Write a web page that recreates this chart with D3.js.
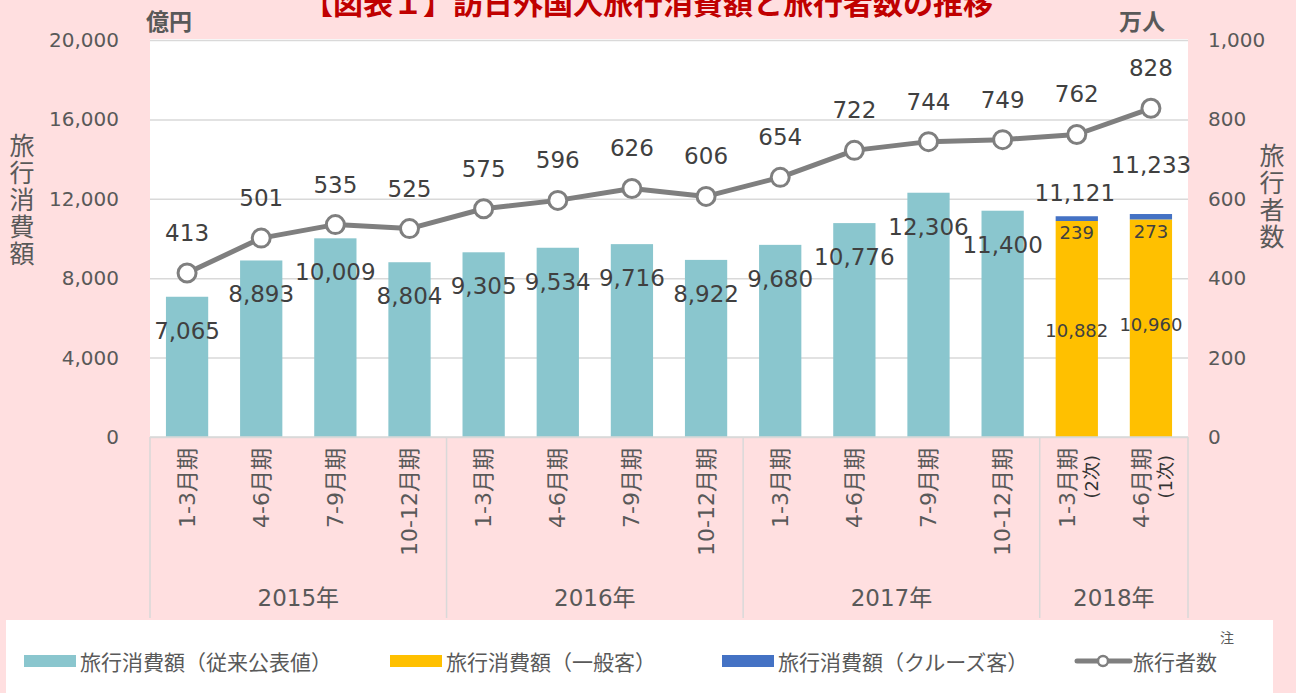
<!DOCTYPE html>
<html>
<head>
<meta charset="utf-8">
<script src="https://cdn.jsdelivr.net/npm/d3@7"></script>
<style>
  body { margin: 0; background: #FFDFE0; }
  svg { display: block; }
  text { font-family: "DejaVu Sans", "Noto Sans CJK JP", sans-serif; }
  .jp { font-family: "Noto Sans CJK JP", sans-serif; }
</style>
</head>
<body>
<svg id="chart" width="1296" height="693"></svg>
<script>
// values
var periods = ["1-3月期", "4-6月期", "7-9月期", "10-12月期",
  "1-3月期", "4-6月期", "7-9月期", "10-12月期",
  "1-3月期", "4-6月期", "7-9月期", "10-12月期",
  "1-3月期", "4-6月期"];
var periodNotes = ["", "", "", "", "", "", "", "", "", "", "", "", "(2次)", "(1次)"];
var years = ["2015年", "2016年", "2017年", "2018年"];
var yearSpans = [4, 4, 4, 2];
var spendOld = [7065, 8893, 10009, 8804, 9305, 9534, 9716, 8922, 9680, 10776, 12306, 11400, null, null];
var spendGeneral = [null, null, null, null, null, null, null, null, null, null, null, null, 10882, 10960];
var spendCruise = [null, null, null, null, null, null, null, null, null, null, null, null, 239, 273];
var visitors = [413, 501, 535, 525, 575, 596, 626, 606, 654, 722, 744, 749, 762, 828];
var leftTicks = [0, 4000, 8000, 12000, 16000, 20000];
var rightTicks = [0, 200, 400, 600, 800, 1000];
var legendLabels = ["旅行消費額（従来公表値）", "旅行消費額（一般客）", "旅行消費額（クルーズ客）", "旅行者数"];

var colors = { old: "#8AC6CE", general: "#FFC000", cruise: "#4472C4", line: "#7F7F7F" };
var textColor = "#595959";
var labelColor = "#404040";
var gridColor = "#D9D9D9";

var plot = { left: 150, right: 1188, top: 40, bottom: 437 };

var svg = d3.select("#chart");

var x = d3.scaleBand()
  .domain(d3.range(periods.length))
  .range([plot.left, plot.right])
  .paddingInner(0.43)
  .paddingOuter(0.215);
var step = x.step();

var yLeft = d3.scaleLinear().domain([0, 20000]).range([plot.bottom, plot.top]);
var yRight = d3.scaleLinear().domain([0, 1000]).range([plot.bottom, plot.top]);

// plot background
svg.append("rect")
  .attr("x", plot.left)
  .attr("y", plot.top - 1)
  .attr("width", plot.right - plot.left)
  .attr("height", plot.bottom - plot.top + 1)
  .attr("fill", "#fff");

// gridlines + left axis
var leftAxis = d3.axisLeft(yLeft)
  .tickValues(leftTicks)
  .tickSize(-(plot.right - plot.left))
  .tickPadding(31)
  .tickFormat(d3.format(","));

svg.append("g")
  .attr("transform", "translate(" + plot.left + ",0)")
  .call(leftAxis)
  .call(function (g) {
    g.select(".domain").remove();
    g.selectAll(".tick line").attr("stroke", gridColor).attr("stroke-width", 1.5);
    g.selectAll(".tick text").attr("fill", textColor).style("font-size", "20px");
  });

var rightAxis = d3.axisRight(yRight)
  .tickValues(rightTicks)
  .tickSize(0)
  .tickPadding(20)
  .tickFormat(d3.format(","));

svg.append("g")
  .attr("transform", "translate(" + plot.right + ",0)")
  .call(rightAxis)
  .call(function (g) {
    g.select(".domain").remove();
    g.selectAll(".tick text").attr("fill", textColor).style("font-size", "20px");
  });

// bars: conventional series
var oldIdx = d3.range(periods.length).filter(function (i) { return spendOld[i] != null; });
svg.append("g").selectAll("rect")
  .data(oldIdx)
  .enter().append("rect")
  .attr("x", function (i) { return x(i); })
  .attr("y", function (i) { return yLeft(spendOld[i]); })
  .attr("width", x.bandwidth())
  .attr("height", function (i) { return plot.bottom - yLeft(spendOld[i]); })
  .attr("fill", colors.old);

// stacked bars for 2018
var stackIdx = d3.range(periods.length).filter(function (i) { return spendGeneral[i] != null; });
svg.append("g").selectAll("rect")
  .data(stackIdx)
  .enter().append("rect")
  .attr("x", function (i) { return x(i); })
  .attr("y", function (i) { return yLeft(spendGeneral[i]); })
  .attr("width", x.bandwidth())
  .attr("height", function (i) { return plot.bottom - yLeft(spendGeneral[i]); })
  .attr("fill", colors.general);

svg.append("g").selectAll("rect")
  .data(stackIdx)
  .enter().append("rect")
  .attr("x", function (i) { return x(i); })
  .attr("y", function (i) { return yLeft(spendGeneral[i] + spendCruise[i]); })
  .attr("width", x.bandwidth())
  .attr("height", function (i) { return yLeft(spendGeneral[i]) - yLeft(spendGeneral[i] + spendCruise[i]); })
  .attr("fill", colors.cruise);

// visitors line
var line = d3.line()
  .x(function (d, i) { return x(i) + x.bandwidth() / 2; })
  .y(function (d) { return yRight(d); });

svg.append("path")
  .datum(visitors)
  .attr("d", line)
  .attr("fill", "none")
  .attr("stroke", colors.line)
  .attr("stroke-width", 5)
  .attr("stroke-linejoin", "round");

svg.append("g").selectAll("circle")
  .data(visitors)
  .enter().append("circle")
  .attr("cx", function (d, i) { return x(i) + x.bandwidth() / 2; })
  .attr("cy", function (d) { return yRight(d); })
  .attr("r", 9)
  .attr("fill", "#fff")
  .attr("stroke", colors.line)
  .attr("stroke-width", 3);

// data labels
var fmt = d3.format(",");
var labels = svg.append("g")
  .attr("text-anchor", "middle")
  .attr("dominant-baseline", "central")
  .attr("fill", labelColor);

labels.selectAll(".lab-old")
  .data(oldIdx)
  .enter().append("text")
  .attr("x", function (i) { return x(i) + x.bandwidth() / 2; })
  .attr("y", function (i) { return yLeft(spendOld[i]) + 34; })
  .style("font-size", "23px")
  .text(function (i) { return fmt(spendOld[i]); });

labels.selectAll(".lab-line")
  .data(visitors)
  .enter().append("text")
  .attr("x", function (d, i) { return x(i) + x.bandwidth() / 2; })
  .attr("y", function (d) { return yRight(d) - 40; })
  .style("font-size", "23px")
  .text(function (d) { return fmt(d); });

// 2018 totals sit above the stack, the last one nudged higher
labels.selectAll(".lab-total")
  .data(stackIdx)
  .enter().append("text")
  .attr("x", function (i, k) { return x(i) + x.bandwidth() / 2 + (k == 1 ? 0 : -2); })
  .attr("y", function (i, k) { return yLeft(spendGeneral[i] + spendCruise[i]) - (k == 1 ? 49 : 23); })
  .style("font-size", "23px")
  .text(function (i) { return fmt(spendGeneral[i] + spendCruise[i]); });

labels.selectAll(".lab-cruise")
  .data(stackIdx)
  .enter().append("text")
  .attr("x", function (i) { return x(i) + x.bandwidth() / 2; })
  .attr("y", function (i) { return yLeft(spendGeneral[i]) + 12; })
  .style("font-size", "18px")
  .text(function (i) { return fmt(spendCruise[i]); });

labels.selectAll(".lab-general")
  .data(stackIdx)
  .enter().append("text")
  .attr("x", function (i) { return x(i) + x.bandwidth() / 2; })
  .attr("y", function (i, k) { return (yLeft(spendGeneral[i]) + plot.bottom) / 2 + (k == 1 ? -4 : 2); })
  .style("font-size", "18px")
  .text(function (i) { return fmt(spendGeneral[i]); });

// category axis
var catBottom = 618;
svg.append("line")
  .attr("x1", plot.left).attr("x2", plot.right)
  .attr("y1", plot.bottom).attr("y2", plot.bottom)
  .attr("stroke", gridColor).attr("stroke-width", 1.5);

var cats = svg.append("g").attr("fill", textColor);
cats.selectAll("text.period")
  .data(periods)
  .enter().append("text")
  .attr("class", "period")
  .attr("transform", function (d, i) {
    var cx = x(i) + x.bandwidth() / 2 + (periodNotes[i] ? -9 : 0);
    return "translate(" + cx + ",448) rotate(-90)";
  })
  .attr("text-anchor", "end")
  .attr("dominant-baseline", "central")
  .style("font-size", "22px")
  .text(function (d) { return d; });

cats.selectAll("text.note")
  .data(periodNotes)
  .enter().append("text")
  .filter(function (d) { return d; })
  .attr("class", "note")
  .attr("transform", function (d, i) {
    var idx = periodNotes.indexOf(d);
    return "translate(" + (x(idx) + x.bandwidth() / 2 + 15) + ",455) rotate(-90)";
  })
  .attr("text-anchor", "end")
  .attr("dominant-baseline", "central")
  .attr("fill", "#333")
  .style("font-size", "18px")
  .text(function (d) { return d; });

var start = 0;
var dividers = [plot.left];
years.forEach(function (yr, k) {
  var x0 = x.range()[0] + start * step;
  var x1 = x0 + yearSpans[k] * step;
  dividers.push(x1);
  cats.append("text")
    .attr("x", (x0 + x1) / 2)
    .attr("y", 598)
    .attr("text-anchor", "middle")
    .attr("dominant-baseline", "central")
    .style("font-size", "23px")
    .text(yr);
  start += yearSpans[k];
});

svg.append("g").selectAll("line")
  .data(dividers)
  .enter().append("line")
  .attr("x1", function (d) { return d; }).attr("x2", function (d) { return d; })
  .attr("y1", plot.bottom).attr("y2", catBottom)
  .attr("stroke", gridColor).attr("stroke-width", 1.5);

// titles
svg.append("text")
  .attr("class", "jp")
  .attr("x", 648)
  .attr("y", 14)
  .attr("text-anchor", "middle")
  .attr("fill", "#C00000")
  .style("font-size", "30px")
  .style("font-weight", "bold")
  .text("【図表１】訪日外国人旅行消費額と旅行者数の推移");

svg.append("text")
  .attr("class", "jp")
  .attr("x", 146).attr("y", 30)
  .attr("fill", textColor)
  .style("font-size", "23px").style("font-weight", "bold")
  .text("億円");

svg.append("text")
  .attr("class", "jp")
  .attr("x", 1165).attr("y", 30)
  .attr("text-anchor", "end")
  .attr("fill", textColor)
  .style("font-size", "23px").style("font-weight", "bold")
  .text("万人");

// stacked axis titles, written top to bottom
function verticalTitle(str, cx, top) {
  svg.append("text")
    .attr("class", "jp")
    .attr("x", cx)
    .attr("y", top)
    .attr("fill", textColor)
    .style("writing-mode", "vertical-rl")
    .style("text-orientation", "upright")
    .style("letter-spacing", "2px")
    .style("font-size", "25px")
    .text(str);
}
verticalTitle("旅行消費額", 22, 133);
verticalTitle("旅行者数", 1272, 143);

// legend
svg.append("rect")
  .attr("x", 6).attr("y", 620)
  .attr("width", 1267).attr("height", 73)
  .attr("fill", "#fff");

var legendY = 661;
var legendX = [24, 390, 722, 1077];
var legend = svg.append("g");
legendLabels.forEach(function (lab, k) {
  var lx = legendX[k];
  if (k < 3) {
    legend.append("rect")
      .attr("x", lx).attr("y", legendY - 6)
      .attr("width", 52).attr("height", 12)
      .attr("fill", [colors.old, colors.general, colors.cruise][k]);
  } else {
    legend.append("line")
      .attr("x1", lx).attr("x2", lx + 53)
      .attr("y1", legendY).attr("y2", legendY)
      .attr("stroke", colors.line).attr("stroke-width", 5)
      .attr("stroke-linecap", "round");
    legend.append("circle")
      .attr("cx", lx + 26).attr("cy", legendY)
      .attr("r", 5).attr("fill", "#fff")
      .attr("stroke", colors.line).attr("stroke-width", 2.5);
  }
  legend.append("text")
    .attr("class", "jp")
    .attr("x", lx + 56).attr("y", legendY)
    .attr("dominant-baseline", "central")
    .attr("fill", textColor)
    .style("font-size", "21px")
    .text(lab);
});
legend.append("text")
  .attr("class", "jp")
  .attr("x", 1220).attr("y", 643)
  .attr("fill", textColor)
  .style("font-size", "14px")
  .text("注");
</script>
</body>
</html>
